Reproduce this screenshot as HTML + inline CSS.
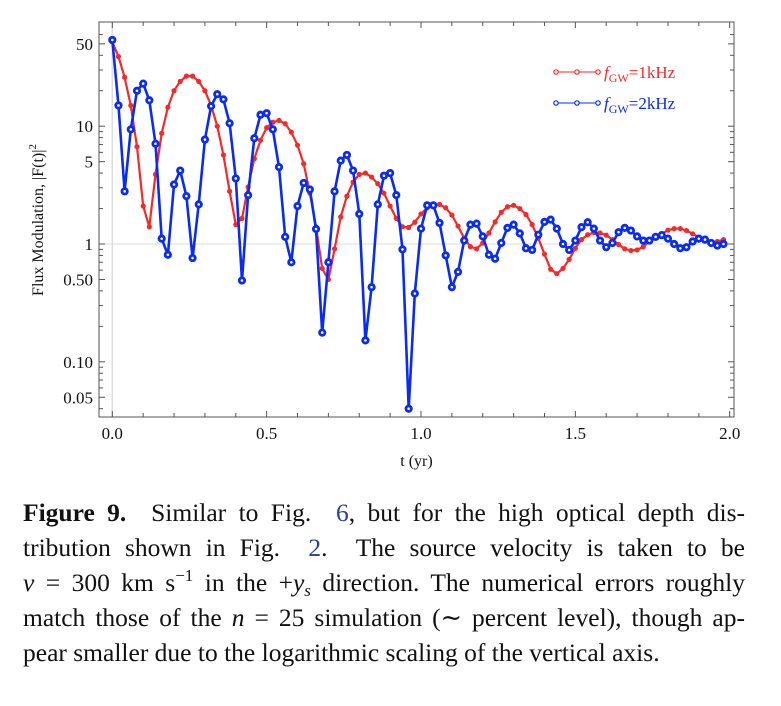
<!DOCTYPE html>
<html><head><meta charset="utf-8">
<style>
body{margin:0;background:#fff;width:781px;height:706px;overflow:hidden;font-family:"Liberation Serif",serif;}
#cap{position:absolute;left:23px;top:495px;width:722px;font-size:25.5px;line-height:35px;color:#111;}
#cap div{text-align:justify;text-align-last:justify;white-space:nowrap;height:35px;}
#cap div.last{text-align-last:left;}
#cap b{font-weight:bold}
#cap sup,#cap sub{font-size:17px;line-height:0;position:relative;vertical-align:baseline;}
#cap sup{top:-10px}
#cap sub{top:5px}
.ref{color:#2a3f8f}
</style></head><body>
<svg id="chart" width="781" height="480" style="position:absolute;left:0;top:0" font-family="Liberation Serif, serif"></svg>
<div id="cap">
<div><b>Figure 9.</b>&nbsp; Similar to Fig. &nbsp;<span class="ref">6</span>, but for the high optical depth dis-</div>
<div>tribution shown in Fig. &nbsp;<span class="ref">2</span>. &nbsp;The source velocity is taken to be</div>
<div><i>v</i> = 300 km s<sup>−1</sup> in the +<i>y<sub>s</sub></i> direction. The numerical errors roughly</div>
<div>match those of the <i>n</i> = 25 simulation (∼ percent level), though ap-</div>
<div class="last">pear smaller due to the logarithmic scaling of the vertical axis.</div>
</div>
<script>
const dt = 0.02;
const red1k = [52,39,26,15,6.7,2.1,1.4,3.9,8.7,14.5,20,24,26.6,26.6,24,20,15,10,5.7,2.8,1.46,1.65,3.05,5.3,7.6,9.7,10.8,11.2,10.5,8.9,6.9,4.8,2.7,1.4,0.62,0.5,0.91,1.7,2.55,3.35,3.9,4.0,3.7,3.25,2.7,2.1,1.65,1.4,1.38,1.53,1.8,2.03,2.17,2.17,2.03,1.76,1.42,1.12,0.95,0.91,1.02,1.24,1.54,1.86,2.07,2.13,2.0,1.78,1.46,1.12,0.82,0.61,0.56,0.62,0.74,0.92,1.09,1.2,1.25,1.24,1.19,1.09,0.99,0.91,0.88,0.89,0.95,1.05,1.14,1.22,1.31,1.35,1.35,1.3,1.22,1.14,1.09,1.04,1.05,1.09];
const blue2k = [54,15,2.8,9.4,20,23,16.6,7.1,1.11,0.81,3.2,4.2,2.55,0.76,2.17,7.7,14.8,18.7,16.9,10.6,3.6,0.49,2.6,7.9,12.5,12.9,9.4,4.5,1.15,0.7,2.1,3.3,2.9,1.34,0.177,0.7,2.8,5.1,5.7,4.2,1.8,0.152,0.43,2.17,3.8,4.0,2.6,0.9,0.04,0.38,1.35,2.13,2.13,1.51,0.8,0.43,0.58,1.07,1.46,1.49,1.16,0.81,0.75,1.02,1.37,1.46,1.23,0.92,0.89,1.2,1.54,1.61,1.35,1.0,0.89,1.07,1.39,1.53,1.35,1.07,0.94,1.02,1.26,1.37,1.3,1.16,1.07,1.07,1.15,1.19,1.11,1.0,0.92,0.94,1.05,1.11,1.09,1.02,0.97,1.0];
const xTicks = [0,0.5,1.0,1.5,2.0];
const xTickLabels = ["0.0","0.5","1.0","1.5","2.0"];
const yTicks = [50,10,5,1,0.5,0.1,0.05];
const yTickLabels = ["50","10","5","1","0.50","0.10","0.05"];

const NS="http://www.w3.org/2000/svg";
const svg=document.getElementById('chart');
const L=99,R=734,T=22,B=417;
const X=t=>112.3+t*308.7;
const Y=v=>244-Math.log10(v)*117.8;
function mk(tag,attrs,parent){const e=document.createElementNS(NS,tag);for(const k in attrs)e.setAttribute(k,attrs[k]);(parent||svg).appendChild(e);return e;}

let g=mk('line',{x1:X(0),x2:X(0),y1:T,y2:B,stroke:'#ddd','stroke-width':1.5});


g=mk('line',{x1:L,x2:R,y1:Y(1),y2:Y(1),stroke:'#ddd','stroke-width':1});



const fr=mk('rect',{x:L,y:T,width:R-L,height:B-T,fill:'none',stroke:'#555','stroke-width':1});



for(let i=0;i<=20;i++){const t=i*0.1;const major=i%5===0;const len=major?6:4;
 mk('line',{x1:X(t),x2:X(t),y1:B,y2:B-len,stroke:'#555'});
 mk('line',{x1:X(t),x2:X(t),y1:T,y2:T+len,stroke:'#555'});}
xTicks.forEach((t,i)=>{const tx=mk('text',{x:X(t),y:B+22,'font-size':17,'text-anchor':'middle',fill:'#111'});tx.textContent=xTickLabels[i];
 
 });
for(let d=-2;d<=1;d++){for(let m=1;m<=9;m++){const v=m*Math.pow(10,d);if(v<0.04||v>60)continue;const y=Y(v);
 const major=(m===1||m===5);const len=major?6:4;
 mk('line',{x1:L,x2:L+len,y1:y,y2:y,stroke:'#555'});mk('line',{x1:R,x2:R-len,y1:y,y2:y,stroke:'#555'});}}
yTicks.forEach((v,i)=>{const tx=mk('text',{x:L-6,y:Y(v)+6,'font-size':17,'text-anchor':'end',fill:'#111'});tx.textContent=yTickLabels[i];
 
 });

let at=mk('text',{x:(L+R)/2,y:466,'font-size':16,'text-anchor':'middle',fill:'#111'});at.textContent='t (yr)';


at=mk('text',{x:0,y:0,'font-size':16,'text-anchor':'middle',fill:'#111',transform:'translate(43,220) rotate(-90)'});
at.innerHTML='Flux Modulation, |F(t)|<tspan dy="-7" font-size="11">2</tspan>';



function series(vals,color,name,r,open){
 const pts=vals.map((v,i)=>X(i*dt).toFixed(1)+','+Y(v).toFixed(1)).join(' ');
 const pl=mk('polyline',{points:pts,fill:'none',stroke:color,'stroke-width':open?2.6:2.2,'stroke-linejoin':'round'});
 
 
 vals.forEach((v,i)=>{const c=mk('circle',{cx:X(i*dt),cy:Y(v),r:r,fill:open?'#fff':color,stroke:color,'stroke-width':open?2.8:0});
  
  });
}
series(red1k,'#f22a2a','series-1khz',2.6,false);
series(blue2k,'#0a2cf0','series-2khz',2.7,true);

function legend(y,color,label,name){const gg=mk('g',{});
 
 
 mk('line',{x1:556,x2:598,y1:y,y2:y,stroke:color,'stroke-width':1},gg);
 [556,577,598].forEach(x=>mk('circle',{cx:x,cy:y,r:2.2,fill:'#fff',stroke:color,'stroke-width':1.2},gg));
 const t=mk('text',{x:604,y:y+6,'font-size':17,fill:color},gg);
 t.innerHTML='<tspan font-style="italic">f</tspan><tspan font-size="12" dy="4">GW</tspan><tspan dy="-4">=</tspan>'+label;}
legend(72,'#f22a2a','1kHz','legend-entry-1khz');
legend(103,'#0a2cf0','2kHz','legend-entry-2khz');
</script>
</body></html>
